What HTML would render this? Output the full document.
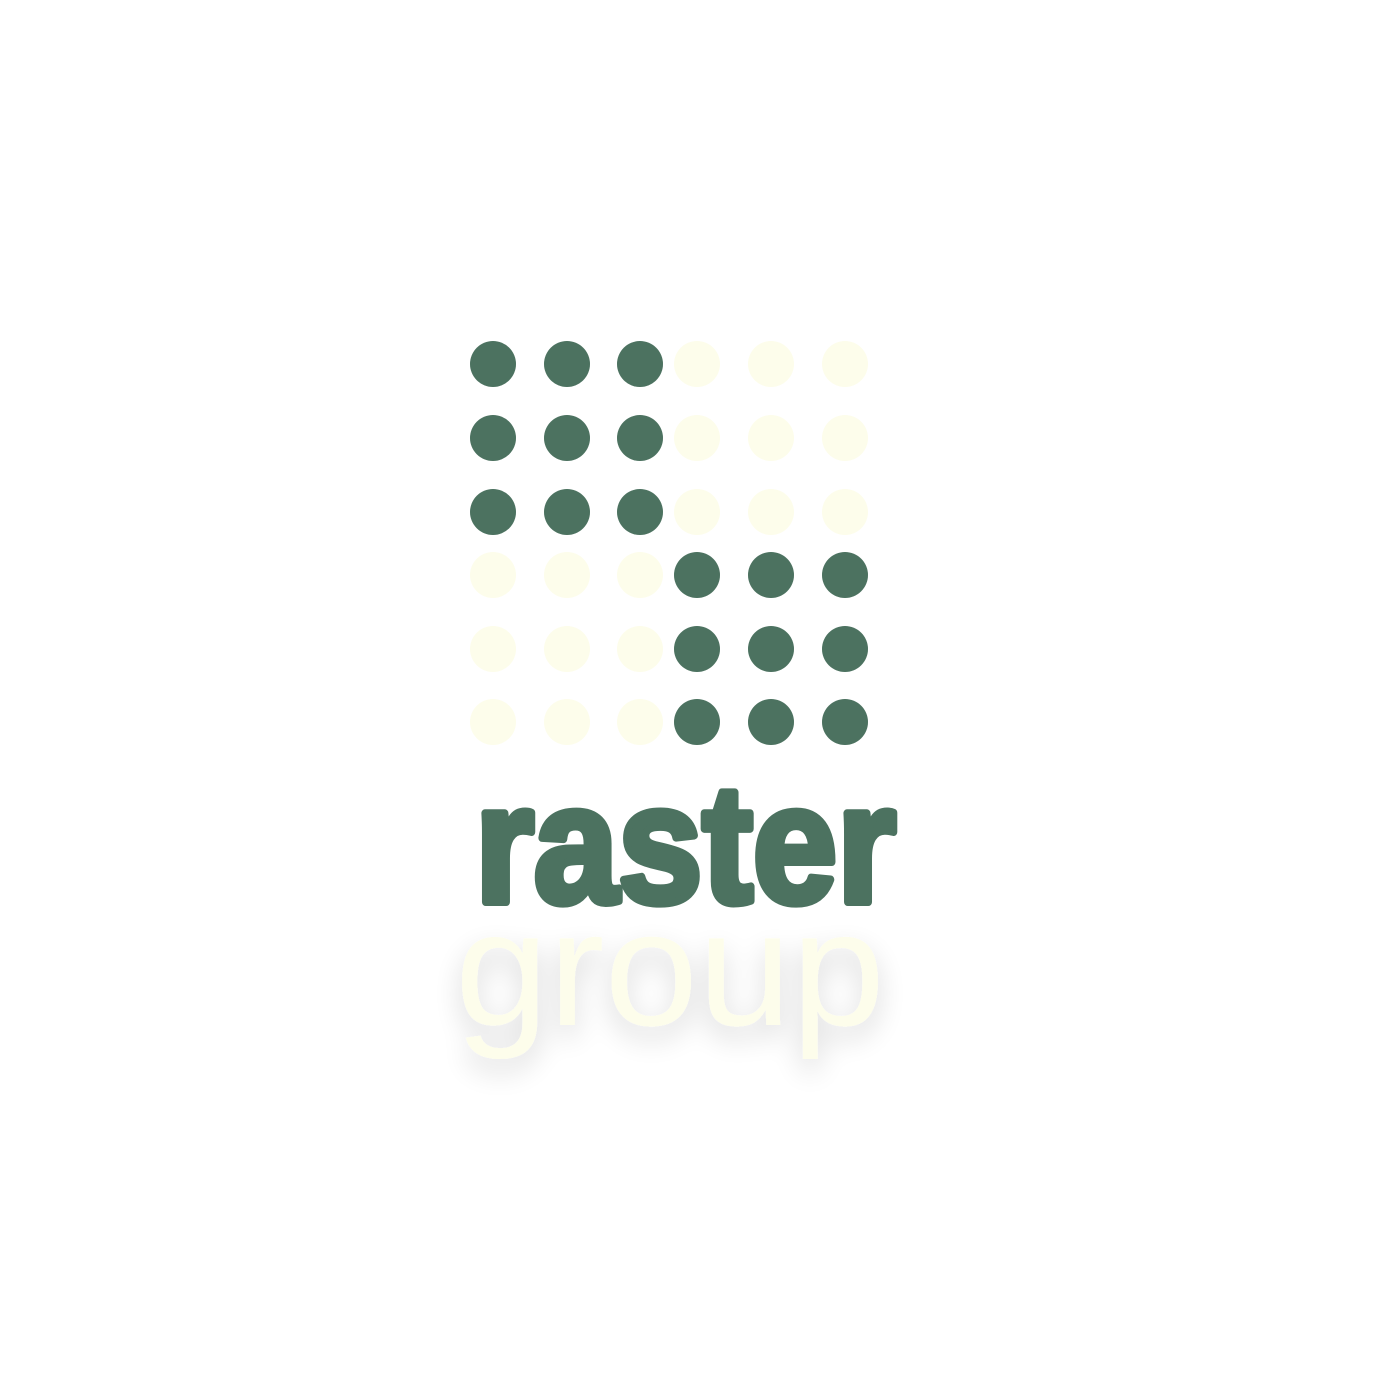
<!DOCTYPE html>
<html><head><meta charset="utf-8"><style>
html,body{margin:0;padding:0;background:#fff;}
svg{display:block;}
</style></head><body>
<svg width="1400" height="1400" viewBox="0 0 1400 1400">
<defs>
<filter id="sh" x="-20%" y="-30%" width="140%" height="180%">
<feGaussianBlur in="SourceAlpha" stdDeviation="14"/>
<feOffset dx="0" dy="12" result="b"/>
<feComponentTransfer><feFuncA type="linear" slope="0.16"/></feComponentTransfer>
<feMerge><feMergeNode/><feMergeNode in="SourceGraphic"/></feMerge>
</filter>
</defs>
<g id="dots"></g>
<text x="475" y="902" textLength="421" lengthAdjust="spacingAndGlyphs" font-family="Liberation Sans, sans-serif" font-weight="bold" font-size="168" fill="#4c7260" stroke="#4c7260" stroke-width="8" stroke-linejoin="round">raster</text>
<text x="455" y="1025" textLength="430" lengthAdjust="spacingAndGlyphs" font-family="Liberation Sans, sans-serif" font-size="164" fill="#fdfdeb" filter="url(#sh)">group</text>
</svg>
<script>
const xs=[493,567,640,697,771,845];
const ys=[364,438,512,575,649,722];
const g=document.getElementById('dots');
for(let r=0;r<6;r++)for(let c=0;c<6;c++){
  const dark=(r<3&&c<3)||(r>=3&&c>=3);
  const e=document.createElementNS('http://www.w3.org/2000/svg','circle');
  e.setAttribute('cx',xs[c]);e.setAttribute('cy',ys[r]);e.setAttribute('r',23);
  e.setAttribute('fill',dark?'#4c7260':'#fdfdeb');
  
  
  g.appendChild(e);
}
</script>
</body></html>
